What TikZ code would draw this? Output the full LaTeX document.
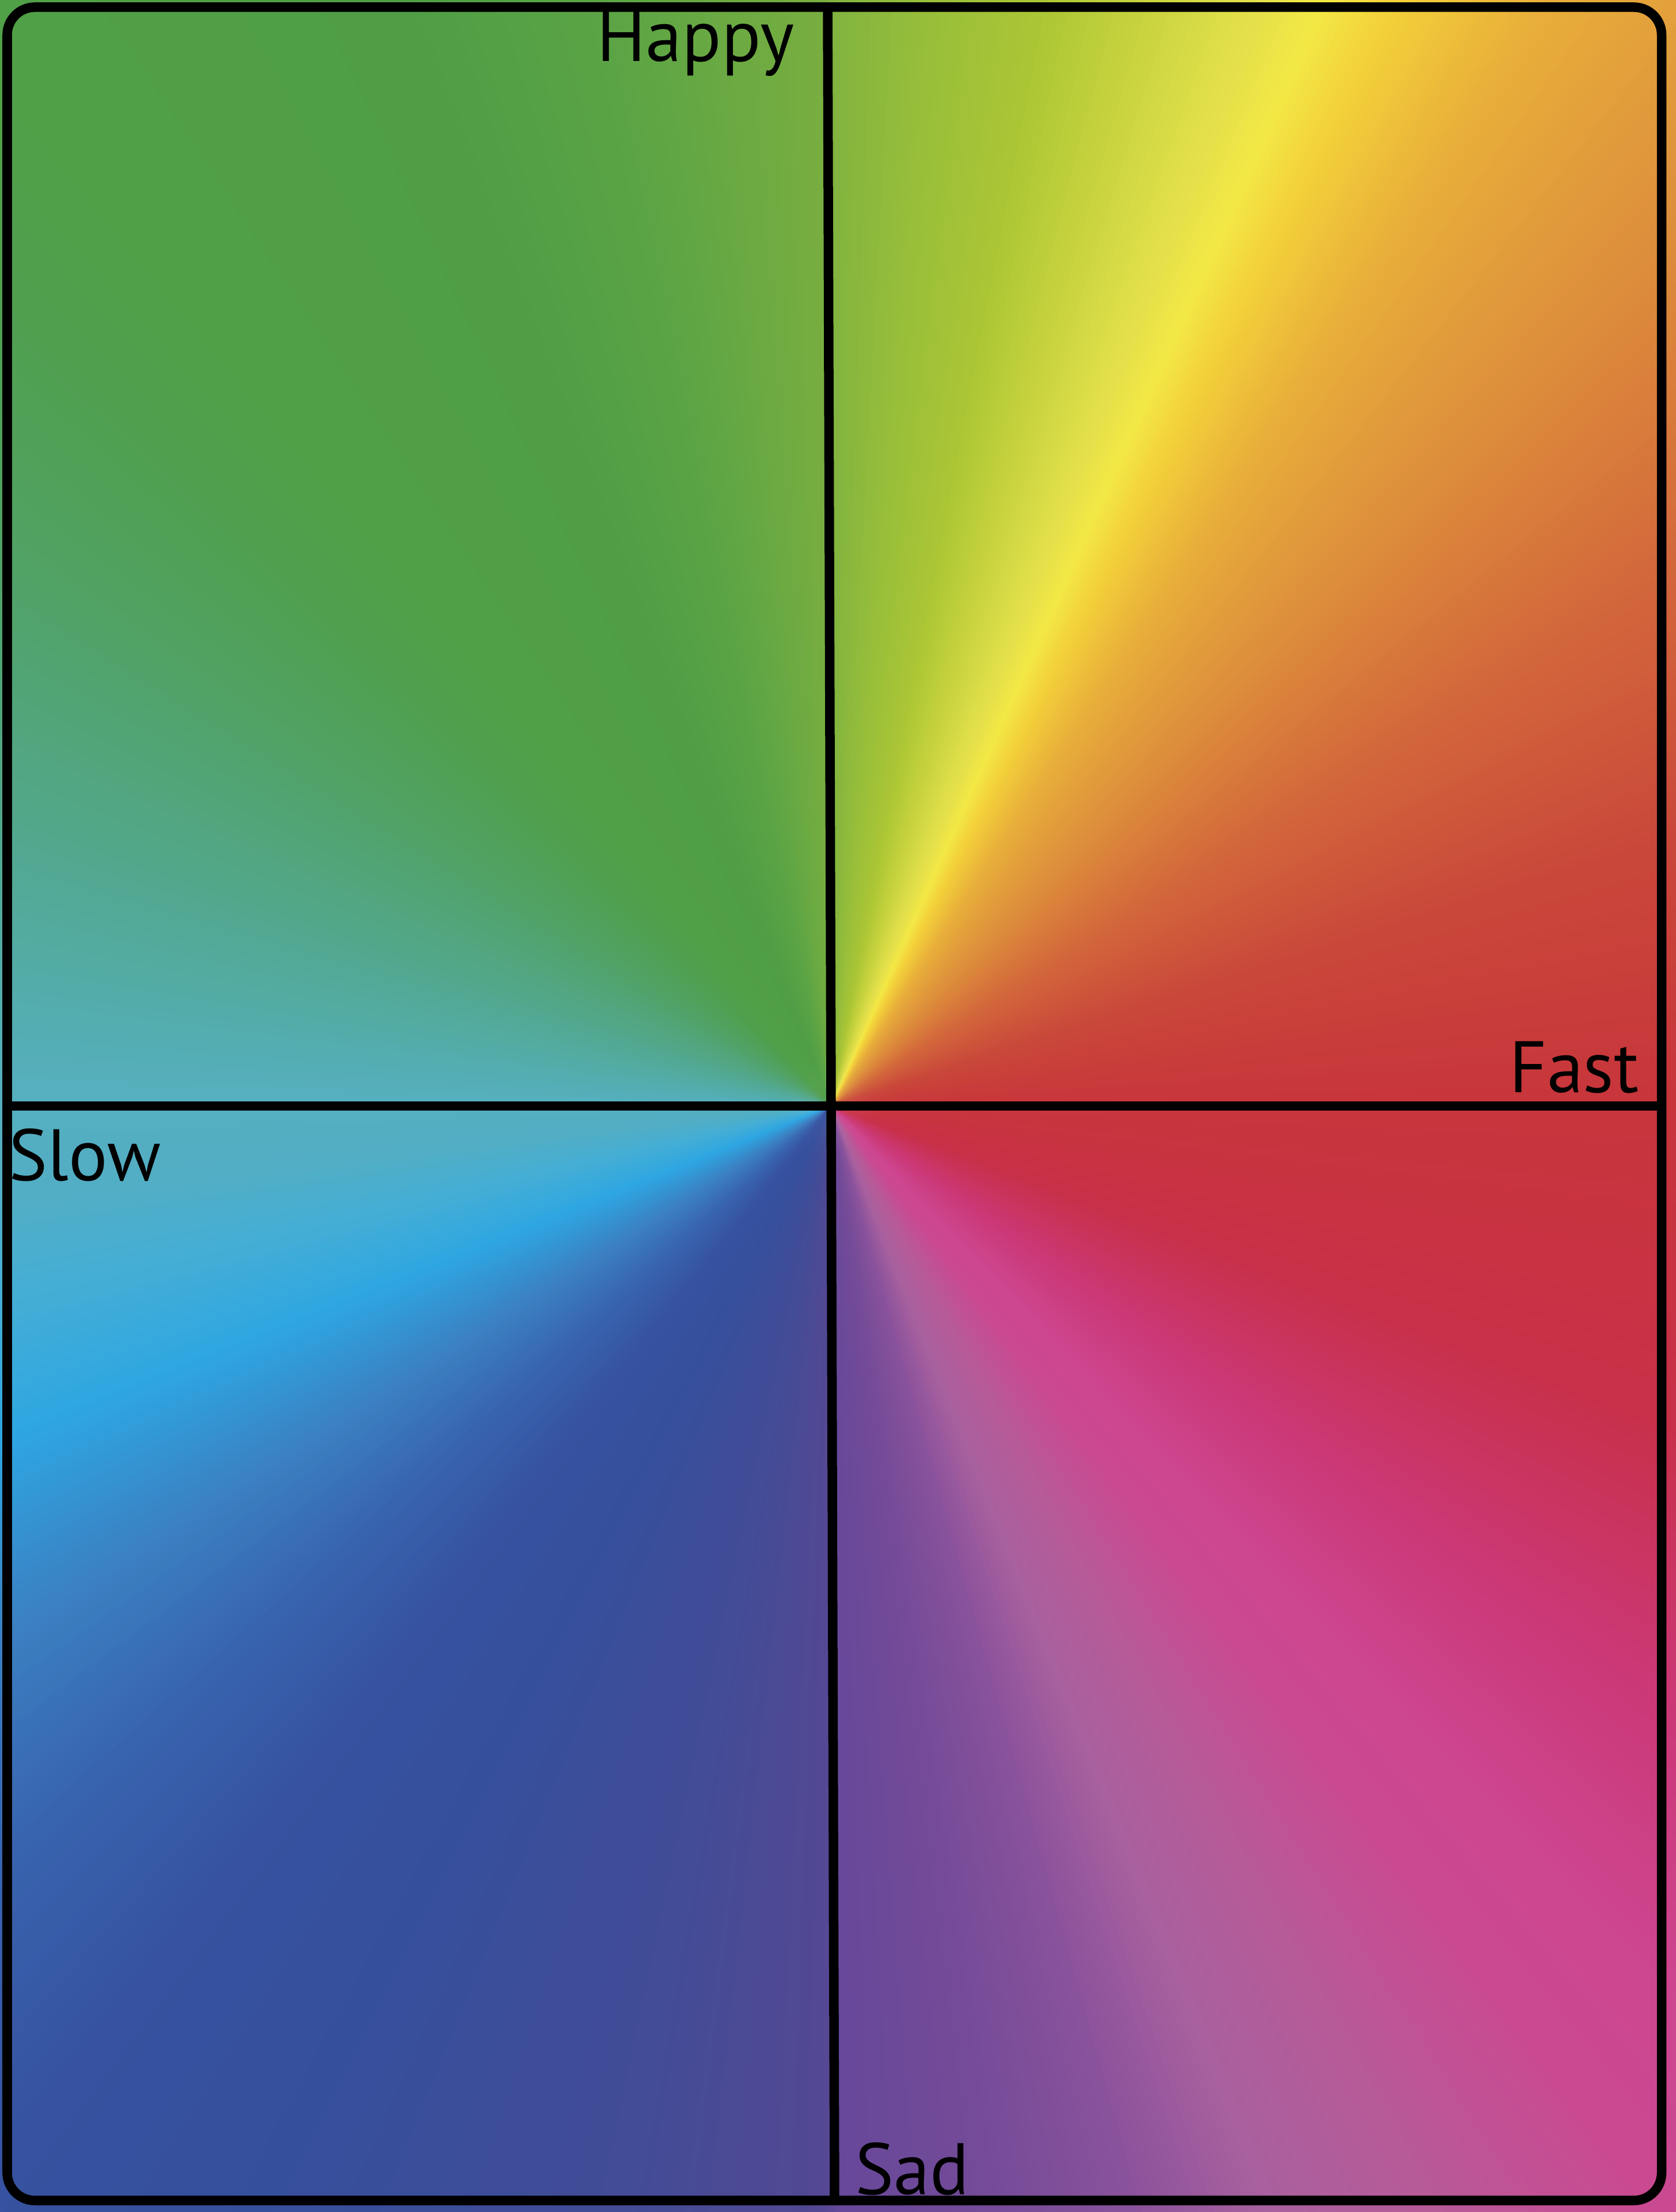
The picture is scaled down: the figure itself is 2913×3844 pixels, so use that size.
\documentclass[tikz,border=0pt]{standalone}
\usepackage{fontspec}
\setmainfont{PT Sans}
\definecolor{s00}{HTML}{C8353B}
\definecolor{s01}{HTML}{C9473A}
\definecolor{s02}{HTML}{D3683B}
\definecolor{s03}{HTML}{DC8A3B}
\definecolor{s04}{HTML}{E29E3B}
\definecolor{s05}{HTML}{E8AE3A}
\definecolor{s06}{HTML}{F3D03A}
\definecolor{s07}{HTML}{F3E845}
\definecolor{s08}{HTML}{E3E04B}
\definecolor{s09}{HTML}{C8D43E}
\definecolor{s10}{HTML}{ACC635}
\definecolor{s11}{HTML}{97BE3A}
\definecolor{s12}{HTML}{82B43F}
\definecolor{s13}{HTML}{78AE40}
\definecolor{s14}{HTML}{5BA445}
\definecolor{s15}{HTML}{4F9E45}
\definecolor{s16}{HTML}{50A047}
\definecolor{s17}{HTML}{509F4E}
\definecolor{s18}{HTML}{51A266}
\definecolor{s19}{HTML}{52A890}
\definecolor{s20}{HTML}{55AFBE}
\definecolor{s21}{HTML}{52AEC5}
\definecolor{s22}{HTML}{45AED5}
\definecolor{s23}{HTML}{2EA6E2}
\definecolor{s24}{HTML}{3B80C2}
\definecolor{s25}{HTML}{3864AF}
\definecolor{s26}{HTML}{3652A0}
\definecolor{s27}{HTML}{364F9C}
\definecolor{s28}{HTML}{424C97}
\definecolor{s29}{HTML}{534893}
\definecolor{s30}{HTML}{67489A}
\definecolor{s31}{HTML}{744B98}
\definecolor{s32}{HTML}{8A529C}
\definecolor{s33}{HTML}{A8609E}
\definecolor{s34}{HTML}{B75A98}
\definecolor{s35}{HTML}{CA4A91}
\definecolor{s36}{HTML}{CD4690}
\definecolor{s37}{HTML}{CB3877}
\definecolor{s38}{HTML}{C83048}
\tikzset{
  frame/.style={line width=0.165cm},
  axisline/.style={line width=0.165cm, line cap=butt},
  lbl/.style={inner sep=0pt, anchor=base west, font=\fontsize{36pt}{40pt}\selectfont}
}
\begin{document}
\begin{tikzpicture}[x=0.01cm,y=0.01cm]
\useasboundingbox (0,0) rectangle (2913,3844);
\coordinate (C) at (1445,1922);
\begin{scope}
\clip (0,0) rectangle (2913,3844);
\foreach \aa/\ca/\ab/\cb in {
  0/s00/17.5/s01, 17.5/s01/33.4/s02, 33.4/s02/45/s03, 45/s03/52/s04,
  52/s04/57/s05, 57/s05/62.9/s06, 62.9/s06/66/s07, 66/s07/69/s08,
  69/s08/74/s09, 74/s09/79/s10, 79/s10/85/s11, 85/s11/89.8/s12,
  89.8/s12/90.5/s13, 90.5/s13/101.7/s14, 101.7/s14/111/s15, 111/s15/128/s16,
  128/s16/135/s17, 135/s17/146.6/s18, 146.6/s18/162.5/s19, 162.5/s19/178.7/s20,
  178.7/s20/186.3/s21, 186.3/s21/193/s22, 193/s22/202/s23, 202/s23/212.7/s24,
  212.7/s24/222.2/s25, 222.2/s25/232/s26, 232/s26/243/s27, 243/s27/258.9/s28,
  258.9/s28/269.5/s29, 269.5/s29/270.5/s30, 270.5/s30/278.2/s31, 278.2/s31/285.3/s32,
  285.3/s32/291.4/s33, 291.4/s33/298.6/s34, 298.6/s34/306.7/s35, 306.7/s35/313.2/s36,
  313.2/s36/324.3/s37, 324.3/s37/339.5/s38, 339.5/s38/360/s00}
{
  \pgfmathtruncatemacro{\nn}{max(1,ceil((\ab-\aa)/0.4))}
  \pgfmathtruncatemacro{\nm}{\nn-1}
  \pgfmathsetmacro{\dd}{(\ab-\aa)/\nn}
  \foreach \i in {0,...,\nm} {
    \pgfmathsetmacro{\st}{\aa+\i*\dd}
    \pgfmathsetmacro{\en}{\st+\dd+0.3}
    \pgfmathsetmacro{\tt}{(\i+0.5)/\nn*100}
    \colorlet{wc}{\cb!\tt!\ca}
    \fill[wc] (C) -- +(\st:2600) -- +(\en:2600) -- cycle;
  }
}
\end{scope}
\coordinate (vt) at (1438.5,3831.5);
\coordinate (vb) at (1450.5,20);
\coordinate (hl) at (12.5,1922);
\coordinate (hr) at (2888,1922);
\draw[axisline] (vt) -- (vb);
\draw[axisline] (hl) -- (hr);
\draw[frame, rounded corners=0.48cm] (12.5,20) rectangle (2888,3831.5);
\node[lbl] (happy) at (1037,3737) {Happy};
\node[lbl] (fast) at (2623,1945) {Fast};
\node[lbl] (slow) at (15,1792) {Slow};
\node[lbl] (sad) at (1486,31) {Sad};
\end{tikzpicture}
\end{document}
